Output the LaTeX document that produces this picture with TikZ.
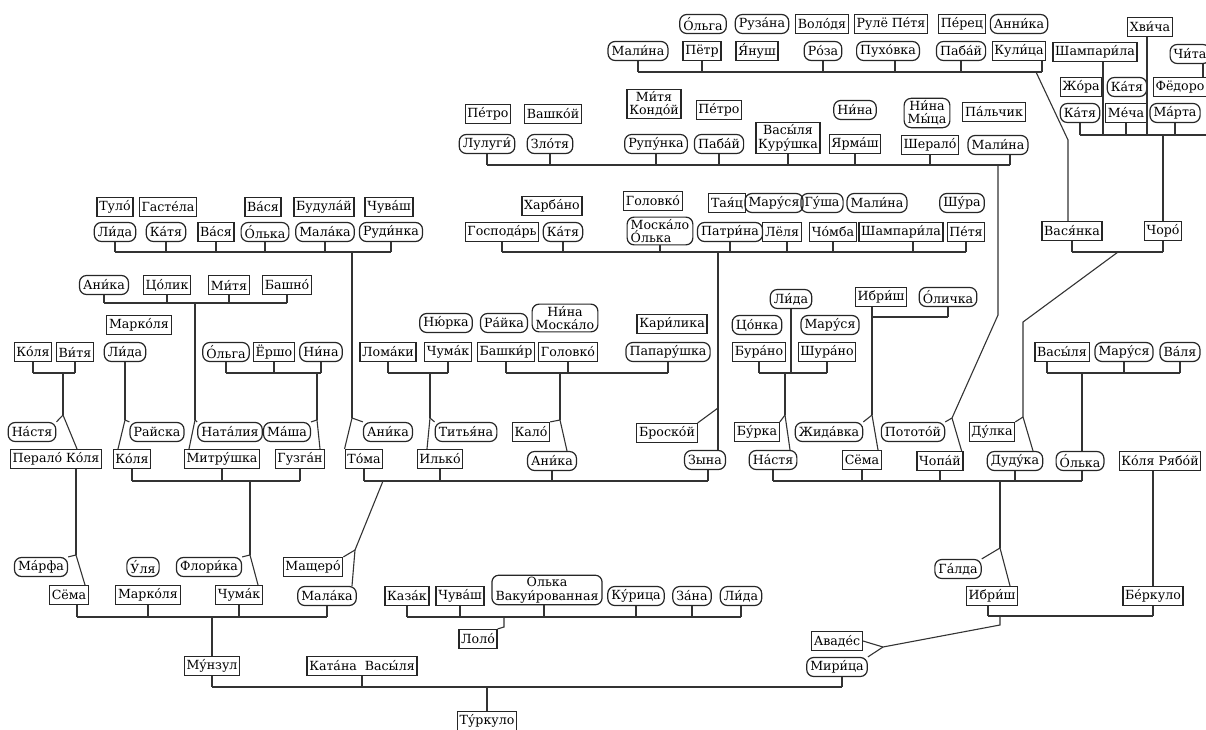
\documentclass[tikz,border=0pt]{standalone}
\usepackage{fontspec}
\setmainfont{DejaVu Serif}
\newfontfamily\capf[RawFeature={-ccmp}]{DejaVu Serif}
\newcommand\acc[1]{#1́}
\begin{document}
\begin{tikzpicture}[x=1pt,y=-1pt,
  nb/.style={draw=black!85,line width=1.2pt,font=\fontsize{12.6}{13.5}\selectfont,inner ysep=2pt,minimum height=19pt,align=center},
  mb/.style={nb,rectangle,inner xsep=2.2pt},
  fb/.style={nb,rectangle,rounded corners=7pt,inner xsep=3.6pt},
  ln/.style={draw=black!80,line width=1.1pt}]
\useasboundingbox (0,0) rectangle (1206,730);

% ---------- nodes ----------
\node[fb] (A1) at (703,24) {\capf\acc{О}льга};
\node[fb] (A2) at (762,24) {Руз\acc{а}на};
\node[mb] (A3) at (822,24) {Вол\acc{о}дя};
\node[mb] (A4) at (891,24) {Рулё П\acc{е}тя};
\node[mb] (A5) at (962,24) {П\acc{е}рец};
\node[fb] (A6) at (1019,24) {Анн\acc{и}ка};
\node[fb] (B1) at (638,51) {Мал\acc{и}на};
\node[mb] (B2) at (702,51) {Пётр};
\node[mb] (B3) at (757,51) {\capf\acc{Я}нуш};
\node[fb] (B4) at (823,51) {Р\acc{о}за};
\node[fb] (B5) at (888,51) {Пух\acc{о}вка};
\node[fb] (B6) at (961,51) {Паб\acc{а}й};
\node[mb] (B7) at (1019,51) {Кул\acc{и}ца};
\node[mb] (C1) at (1150,27) {Хв\acc{и}ча};
\node[mb] (C2) at (1095,52) {Шампар\acc{и}ла};
\node[fb] (C3) at (1190,54) {Ч\acc{и}та};
\node[mb] (C4) at (1081,87) {Ж\acc{о}ра};
\node[fb] (C5) at (1127,87) {К\acc{а}тя};
\node[mb] (C6) at (1180,87) {Фёдоро};
\node[fb] (C7) at (1080,113) {К\acc{а}тя};
\node[mb] (C8) at (1126,113) {М\acc{е}ча};
\node[fb] (C9) at (1175,113) {М\acc{а}рта};
\node[mb] (Vas) at (1072,231) {Вас\acc{я}нка};
\node[mb] (Cho) at (1163,231) {Чор\acc{о}};
\node[mb] (D1) at (488,114) {П\acc{е}тро};
\node[mb] (D2) at (553,114) {Вашк\acc{о}й};
\node[fb] (D3) at (487,144) {Лулуг\acc{и}};
\node[fb] (D4) at (550,144) {Зл\acc{о}тя};
\node[mb] (D5) at (654,104) {М\acc{и}тя\\Конд\acc{о}й};
\node[mb] (D6) at (719,110) {П\acc{е}тро};
\node[fb] (D7) at (855,110) {Н\acc{и}на};
\node[fb] (D8) at (656,144) {Руп\acc{у}нка};
\node[fb] (D9) at (719,144) {Паб\acc{а}й};
\node[mb] (D10) at (788,138) {Вас\acc{ы}ля\\Кур\acc{у}шка};
\node[mb] (D11) at (855,144) {Ярм\acc{а}ш};
\node[fb] (D12) at (927,113) {Н\acc{и}на\\М\acc{ы}ца};
\node[mb] (D13) at (994,112) {П\acc{а}льчик};
\node[mb] (D14) at (930,145) {Шерал\acc{о}};
\node[fb] (D15) at (998,145) {Мал\acc{и}на};
\node[mb] (E1) at (115,207) {Тул\acc{о}};
\node[mb] (E2) at (168,207) {Гаст\acc{е}ла};
\node[mb] (E3) at (263,207) {В\acc{а}ся};
\node[mb] (E4) at (324,207) {Будул\acc{а}й};
\node[mb] (E5) at (389,207) {Чув\acc{а}ш};
\node[fb] (E6) at (115,232) {Л\acc{и}да};
\node[fb] (E7) at (166,232) {К\acc{а}тя};
\node[mb] (E8) at (216,232) {В\acc{а}ся};
\node[fb] (E9) at (265,232) {\capf\acc{О}лька};
\node[fb] (E10) at (325,232) {Мал\acc{а}ка};
\node[fb] (E11) at (391,232) {Руд\acc{и}нка};
\node[mb] (F1) at (552,206) {Харб\acc{а}но};
\node[mb] (F2) at (502,232) {Господ\acc{а}рь};
\node[fb] (F3) at (563,232) {К\acc{а}тя};
\node[mb] (F4) at (653,201) {Головк\acc{о}};
\node[fb,align=left] (F5) at (660,231) {Моск\acc{а}ло\\{\capf\acc{О}лька}};
\node[mb] (F6) at (727,203) {Та\acc{я}ц};
\node[fb] (F7) at (774,203) {Мар\acc{у}ся};
\node[fb] (F8) at (822,203) {Г\acc{у}ша};
\node[fb] (F9) at (877,203) {Мал\acc{и}на};
\node[fb] (F10) at (962,203) {Ш\acc{у}ра};
\node[fb] (F11) at (730,232) {Патр\acc{и}на};
\node[mb] (F12) at (782,232) {Лёля};
\node[mb] (F13) at (833,232) {Ч\acc{о}мба};
\node[mb] (F14) at (901,232) {Шампар\acc{и}ла};
\node[mb] (F15) at (966,232) {П\acc{е}тя};
\node[fb] (G1) at (104,285) {Ан\acc{и}ка};
\node[mb] (G2) at (167,285) {Ц\acc{о}лик};
\node[mb] (G3) at (229,285) {М\acc{и}тя};
\node[mb] (G4) at (287,285) {Башн\acc{о}};
\node[mb] (G5) at (139,325) {Марк\acc{о}ля};
\node[mb] (H1) at (33,352) {К\acc{о}ля};
\node[mb] (H2) at (75,352) {В\acc{и}тя};
\node[fb] (H3) at (125,352) {Л\acc{и}да};
\node[fb] (H4) at (226,352) {\capf\acc{О}льга};
\node[mb] (H5) at (274,352) {Ёршо};
\node[fb] (H6) at (321,352) {Н\acc{и}на};
\node[fb] (I1) at (32,432) {Н\acc{а}стя};
\node[mb] (I2) at (56,459) {Перал\acc{о} К\acc{о}ля};
\node[fb] (I3) at (157,432) {Райска};
\node[mb] (I4) at (132,459) {К\acc{о}ля};
\node[fb] (I5) at (230,432) {Нат\acc{а}лия};
\node[fb] (I6) at (287,432) {М\acc{а}ша};
\node[mb] (I7) at (222,459) {Митр\acc{у}шка};
\node[mb] (I8) at (300,459) {Гузг\acc{а}н};
\node[fb] (J1) at (446,323) {Н\acc{ю}рка};
\node[fb] (J2) at (504,323) {Р\acc{а}йка};
\node[fb] (J3) at (565,318) {Н\acc{и}на\\Моск\acc{а}ло};
\node[mb] (J4) at (388,352) {Лом\acc{а}ки};
\node[mb] (J5) at (448,352) {Чум\acc{а}к};
\node[mb] (J6) at (506,352) {Башк\acc{и}р};
\node[mb] (J7) at (568,352) {Головк\acc{о}};
\node[mb] (J8) at (672,324) {Кар\acc{и}лика};
\node[fb] (J9) at (668,352) {Папар\acc{у}шка};
\node[fb] (K1) at (388,432) {Ан\acc{и}ка};
\node[mb] (K2) at (364,459) {Т\acc{о}ма};
\node[fb] (K3) at (466,432) {Тить\acc{я}на};
\node[mb] (K4) at (440,459) {Ильк\acc{о}};
\node[mb] (K5) at (531,432) {Кал\acc{о}};
\node[fb] (K6) at (552,461) {Ан\acc{и}ка};
\node[mb] (K7) at (667,433) {Броск\acc{о}й};
\node[fb] (K8) at (705,460) {Зына};
\node[fb] (L1) at (791,299) {Л\acc{и}да};
\node[fb] (L2) at (757,325) {Ц\acc{о}нка};
\node[fb] (L3) at (830,325) {Мар\acc{у}ся};
\node[mb] (L4) at (759,352) {Бур\acc{а}но};
\node[mb] (L5) at (827,352) {Шур\acc{а}но};
\node[mb] (L6) at (881,297) {Ибр\acc{и}ш};
\node[fb] (L7) at (948,297) {\capf\acc{О}личка};
\node[mb] (M1) at (757,432) {Б\acc{у}рка};
\node[fb] (M2) at (773,460) {Н\acc{а}стя};
\node[fb] (M3) at (829,432) {Жид\acc{а}вка};
\node[mb] (M4) at (862,460) {Сёма};
\node[fb] (M5) at (913,432) {Потот\acc{о}й};
\node[mb] (M6) at (940,461) {Чоп\acc{а}й};
\node[mb] (M7) at (992,432) {Д\acc{у}лка};
\node[fb] (M8) at (1015,461) {Дуд\acc{у}ка};
\node[fb] (M9) at (1080,461) {\capf\acc{О}лька};
\node[mb] (M10) at (1160,461) {К\acc{о}ля Ряб\acc{о}й};
\node[mb] (N1) at (1062,352) {Вас\acc{ы}ля};
\node[fb] (N2) at (1124,352) {Мар\acc{у}ся};
\node[fb] (N3) at (1180,352) {В\acc{а}ля};
\node[fb] (O1) at (41,567) {М\acc{а}рфа};
\node[mb] (O2) at (69,595) {Сёма};
\node[fb] (O3) at (143,567) {\capf\acc{У}ля};
\node[mb] (O4) at (148,595) {Марк\acc{о}ля};
\node[fb] (O5) at (209,567) {Флор\acc{и}ка};
\node[mb] (O6) at (239,595) {Чум\acc{а}к};
\node[mb] (O7) at (313,567) {Мащер\acc{о}};
\node[fb] (O8) at (327,596) {Мал\acc{а}ка};
\node[mb] (P1) at (212,666) {М\acc{у}нзул};
\node[mb] (P2) at (362,666) {Кат\acc{а}на\ \ Вас\acc{ы}ля};
\node[mb] (P3) at (487,721) {Т\acc{у}ркуло};
\node[mb] (Q1) at (407,596) {Каз\acc{а}к};
\node[mb] (Q2) at (460,596) {Чув\acc{а}ш};
\node[fb] (Q3) at (547,590) {Олька\\Ваку\acc{и}рованная};
\node[fb] (Q4) at (636,596) {К\acc{у}рица};
\node[fb] (Q5) at (692,596) {З\acc{а}на};
\node[fb] (Q6) at (741,596) {Л\acc{и}да};
\node[mb] (Q7) at (478,639) {Лол\acc{о}};
\node[mb] (R1) at (837,641) {Авад\acc{е}с};
\node[fb] (R2) at (837,667) {Мир\acc{и}ца};
\node[fb] (S1) at (958,569) {Г\acc{а}лда};
\node[mb] (S2) at (992,596) {Ибр\acc{и}ш};
\node[mb] (S3) at (1153,596) {Б\acc{е}ркуло};

% ---------- bus levels ----------
\coordinate (yA) at (0,72);
\coordinate (yC) at (0,135);
\coordinate (yD) at (0,165);
\coordinate (yE) at (0,252);
\coordinate (yG) at (0,303);
\coordinate (yL) at (0,317);
\coordinate (yH) at (0,373);
\coordinate (yK) at (0,481);
\coordinate (yS) at (0,616);
\coordinate (yO) at (0,617);
\coordinate (yP) at (0,687);

% shifted stem points
\coordinate (sB5) at ([xshift=7pt]B5.south);
\coordinate (sB7) at ([xshift=23pt]B7.south);
\coordinate (sC1) at ([xshift=-3pt]C1.south);
\coordinate (sC2) at ([xshift=8pt]C2.south);
\coordinate (sC3) at ([xshift=13pt]C3.south);
\coordinate (sD15) at ([xshift=12pt]D15.south);
\coordinate (sF12) at ([xshift=5pt]F12.south);
\coordinate (sF14) at ([xshift=12pt]F14.south);
\coordinate (sL6) at ([xshift=-9pt]L6.south);
\coordinate (sN1) at ([xshift=-15pt]N1.south);
\coordinate (sM9) at ([xshift=2pt]M9.south);
\coordinate (sM10) at ([xshift=-7pt]M10.south);
\coordinate (sI2) at ([xshift=20pt]I2.south);
\coordinate (sK8) at ([xshift=3pt]K8.south);
\coordinate (sO2) at ([xshift=8pt]O2.south);
\coordinate (sQ3) at ([xshift=-3pt]Q3.south);
\coordinate (sR2) at ([xshift=5pt]R2.south);
\coordinate (sS2) at ([xshift=-4pt]S2.south);

% child targets
\coordinate (tI2) at ([xshift=21pt]I2.north);
\coordinate (tI4) at ([xshift=-14pt]I4.north);
\coordinate (tI7) at ([xshift=-33pt]I7.north);
\coordinate (tI8) at ([xshift=20pt]I8.north);
\coordinate (tK4) at ([xshift=-13pt]K4.north);
\coordinate (tK6) at ([xshift=15pt]K6.north);
\coordinate (tK8) at ([xshift=13pt]K8.north);
\coordinate (tM2) at ([xshift=17pt]M2.north);
\coordinate (tM4) at ([xshift=16pt]M4.north);
\coordinate (tM6) at ([xshift=-2pt]M6.north east);
\coordinate (tM8) at ([xshift=18pt]M8.north);
\coordinate (tO2) at ([xshift=16pt]O2.north);
\coordinate (tO6) at ([xshift=19pt]O6.north);
\coordinate (tO8) at ([xshift=25pt]O8.north);
\coordinate (tS2) at ([xshift=18pt]S2.north);

% junctions
\coordinate (j1) at (63,415);
\coordinate (j2) at (125,420);
\coordinate (j3) at (195,420);
\coordinate (j4) at (317,420);
\coordinate (j5) at (352,418);
\coordinate (j6) at (430,418);
\coordinate (j7) at (560,420);
\coordinate (j8) at (718,408);
\coordinate (j9) at (785,415);
\coordinate (j10) at (872,415);
\coordinate (j11) at (952,418);
\coordinate (j12) at (1023,417);
\coordinate (j13) at (76,555);
\coordinate (j14) at (250,555);
\coordinate (j15) at (355,550);
\coordinate (j16) at (1000,548);
\coordinate (jR) at (883,647);
\coordinate (vA) at (1036,72);
\coordinate (vB) at (1068,140);
\coordinate (d1) at (1118,252);
\coordinate (d2) at (1023,322);
\coordinate (d3) at (998,315);
\coordinate (kd) at (383,481);
\coordinate (qa) at (504,627);
\coordinate (ra) at (1000,625);

% ---------- connectors ----------
\foreach \n in {B1,B2,B4,B6} {\draw[ln] (\n.south) -- (\n.south |- yA);}
\draw[ln] (sB5) -- (sB5 |- yA);
\draw[ln] (sB7) -- (sB7 |- yA);
\draw[ln] (B1.south |- yA) -- (sB7 |- yA);
\draw[ln] (vA) -- (vB) -- (vB |- Vas.north);

\foreach \n in {C7,C8,C9} {\draw[ln] (\n.south) -- (\n.south |- yC);}
\draw[ln] (sC1) -- (sC1 |- yC);
\draw[ln] (sC2) -- (sC2 |- yC);
\draw[ln] (sC3) -- (sC3 |- C6.north);
\draw[ln] (C7.south |- yC) -- (1212,135);
\draw[ln] (Cho.north |- yC) -- (Cho.north);
\draw[ln] (Vas.south) -- (Vas.south |- yE);
\draw[ln] (Cho.south) -- (Cho.south |- yE);
\draw[ln] (Vas.south |- yE) -- (Cho.south |- yE);
\draw[ln] (d1) -- (d2) -- (j12);
\draw[ln] (j12) -- (M7.north east);
\draw[ln] (j12) -- (tM8);

\foreach \n in {D3,D4,D8,D9,D10,D11,D14} {\draw[ln] (\n.south) -- (\n.south |- yD);}
\draw[ln] (sD15) -- (sD15 |- yD);
\draw[ln] (D3.south |- yD) -- (sD15 |- yD);
\draw[ln] (d3 |- yD) -- (d3) -- (j11);
\draw[ln] (j11) -- (M5.north east);
\draw[ln] (j11) -- (tM6);

\foreach \n in {E6,E7,E8,E9,E10,E11} {\draw[ln] (\n.south) -- (\n.south |- yE);}
\draw[ln] (E6.south |- yE) -- (E11.south |- yE);
\draw[ln] (j5 |- yE) -- (j5);
\draw[ln] (j5) -- (K1.north west);
\draw[ln] (j5) -- (K2.north west);

\foreach \n in {F2,F3,F5,F11,F13,F15} {\draw[ln] (\n.south) -- (\n.south |- yE);}
\draw[ln] (sF12) -- (sF12 |- yE);
\draw[ln] (sF14) -- (sF14 |- yE);
\draw[ln] (F2.south |- yE) -- (F15.south |- yE);
\draw[ln] (j8 |- yE) -- (j8) -- (tK8);
\draw[ln] (j8) -- (K7.north east);

\foreach \n in {G1,G2,G3,G4} {\draw[ln] (\n.south) -- (\n.south |- yG);}
\draw[ln] (G1.south |- yG) -- (G4.south |- yG);
\draw[ln] (j3 |- yG) -- (j3);
\draw[ln] (j3) -- (I5.north west);
\draw[ln] (j3) -- (tI7);

\foreach \n in {H1,H2,H4,H5,H6} {\draw[ln] (\n.south) -- (\n.south |- yH);}
\draw[ln] (H1.south |- yH) -- (H2.south |- yH);
\draw[ln] (j1 |- yH) -- (j1);
\draw[ln] (j1) -- (I1.north east);
\draw[ln] (j1) -- (tI2);
\draw[ln] (H3.south) -- (j2);
\draw[ln] (j2) -- (I3.north west);
\draw[ln] (j2) -- (tI4);
\draw[ln] (H4.south |- yH) -- (H6.south |- yH);
\draw[ln] (j4 |- yH) -- (j4);
\draw[ln] (j4) -- (I6.north east);
\draw[ln] (j4) -- (tI8);

\foreach \n in {I4,I7,I8} {\draw[ln] (\n.south) -- (\n.south |- yK);}
\draw[ln] (I4.south |- yK) -- (I8.south |- yK);
\draw[ln] (j14 |- yK) -- (j14);
\draw[ln] (j14) -- (O5.north east);
\draw[ln] (j14) -- (tO6);
\draw[ln] (sI2) -- (j13);
\draw[ln] (j13) -- (O1.north east);
\draw[ln] (j13) -- (tO2);

\foreach \n in {J4,J5,J6,J7,J9} {\draw[ln] (\n.south) -- (\n.south |- yH);}
\draw[ln] (J4.south |- yH) -- (J5.south |- yH);
\draw[ln] (j6 |- yH) -- (j6);
\draw[ln] (j6) -- (K3.north west);
\draw[ln] (j6) -- (tK4);
\draw[ln] (J6.south |- yH) -- (J9.south |- yH);
\draw[ln] (j7 |- yH) -- (j7);
\draw[ln] (j7) -- (K5.north east);
\draw[ln] (j7) -- (tK6);

\foreach \n in {K2,K4,K6} {\draw[ln] (\n.south) -- (\n.south |- yK);}
\draw[ln] (sK8) -- (sK8 |- yK);
\draw[ln] (K2.south |- yK) -- (sK8 |- yK);
\draw[ln] (kd) -- (j15);
\draw[ln] (j15) -- (O7.north east);
\draw[ln] (j15) -- (tO8);

\draw[ln] (L1.south) -- (L1.south |- yH);
\foreach \n in {L4,L5} {\draw[ln] (\n.south) -- (\n.south |- yH);}
\draw[ln] (L4.south |- yH) -- (L5.south |- yH);
\draw[ln] (j9 |- yH) -- (j9);
\draw[ln] (j9) -- (M1.north east);
\draw[ln] (j9) -- (tM2);
\draw[ln] (sL6) -- (sL6 |- yL);
\draw[ln] (L7.south) -- (L7.south |- yL);
\draw[ln] (sL6 |- yL) -- (L7.south |- yL);
\draw[ln] (j10 |- yL) -- (j10);
\draw[ln] (j10) -- (M3.north east);
\draw[ln] (j10) -- (tM4);

\foreach \n in {N2,N3} {\draw[ln] (\n.south) -- (\n.south |- yH);}
\draw[ln] (sN1) -- (sN1 |- yH);
\draw[ln] (sN1 |- yH) -- (N3.south |- yH);
\draw[ln] (sM9 |- yH) -- ([xshift=2pt]M9.north);

\foreach \n in {M2,M4,M6,M8} {\draw[ln] (\n.south) -- (\n.south |- yK);}
\draw[ln] (sM9) -- (sM9 |- yK);
\draw[ln] (M2.south |- yK) -- (sM9 |- yK);
\draw[ln] (j16 |- yK) -- (j16);
\draw[ln] (j16) -- (S1.north east);
\draw[ln] (j16) -- (tS2);
\draw[ln] (sM10) -- (sM10 |- S3.north);

\foreach \n in {O4,O6,O8} {\draw[ln] (\n.south) -- (\n.south |- yO);}
\draw[ln] (sO2) -- (sO2 |- yO);
\draw[ln] (sO2 |- yO) -- (O8.south |- yO);
\draw[ln] (P1.north |- yO) -- (P1.north);
\draw[ln] (P1.south) -- (P1.south |- yP);
\draw[ln] (P2.south) -- (P2.south |- yP);
\draw[ln] (sR2) -- (sR2 |- yP);
\draw[ln] (P1.south |- yP) -- (sR2 |- yP);
\draw[ln] (P3.north |- yP) -- (P3.north);

\foreach \n in {Q1,Q2,Q4,Q5,Q6} {\draw[ln] (\n.south) -- (\n.south |- yO);}
\draw[ln] (sQ3) -- (sQ3 |- yO);
\draw[ln] (Q1.south |- yO) -- (Q6.south |- yO);
\draw[ln] (qa |- yO) -- (qa) -- (Q7.north east);

\draw[ln] (R1.east) -- (jR);
\draw[ln] (R2.north east) -- (jR);
\draw[ln] (jR) -- (ra) -- (ra |- yS);
\draw[ln] (sS2) -- (sS2 |- yS);
\draw[ln] (S3.south) -- (S3.south |- yS);
\draw[ln] (sS2 |- yS) -- (S3.south |- yS);
\end{tikzpicture}
\end{document}
